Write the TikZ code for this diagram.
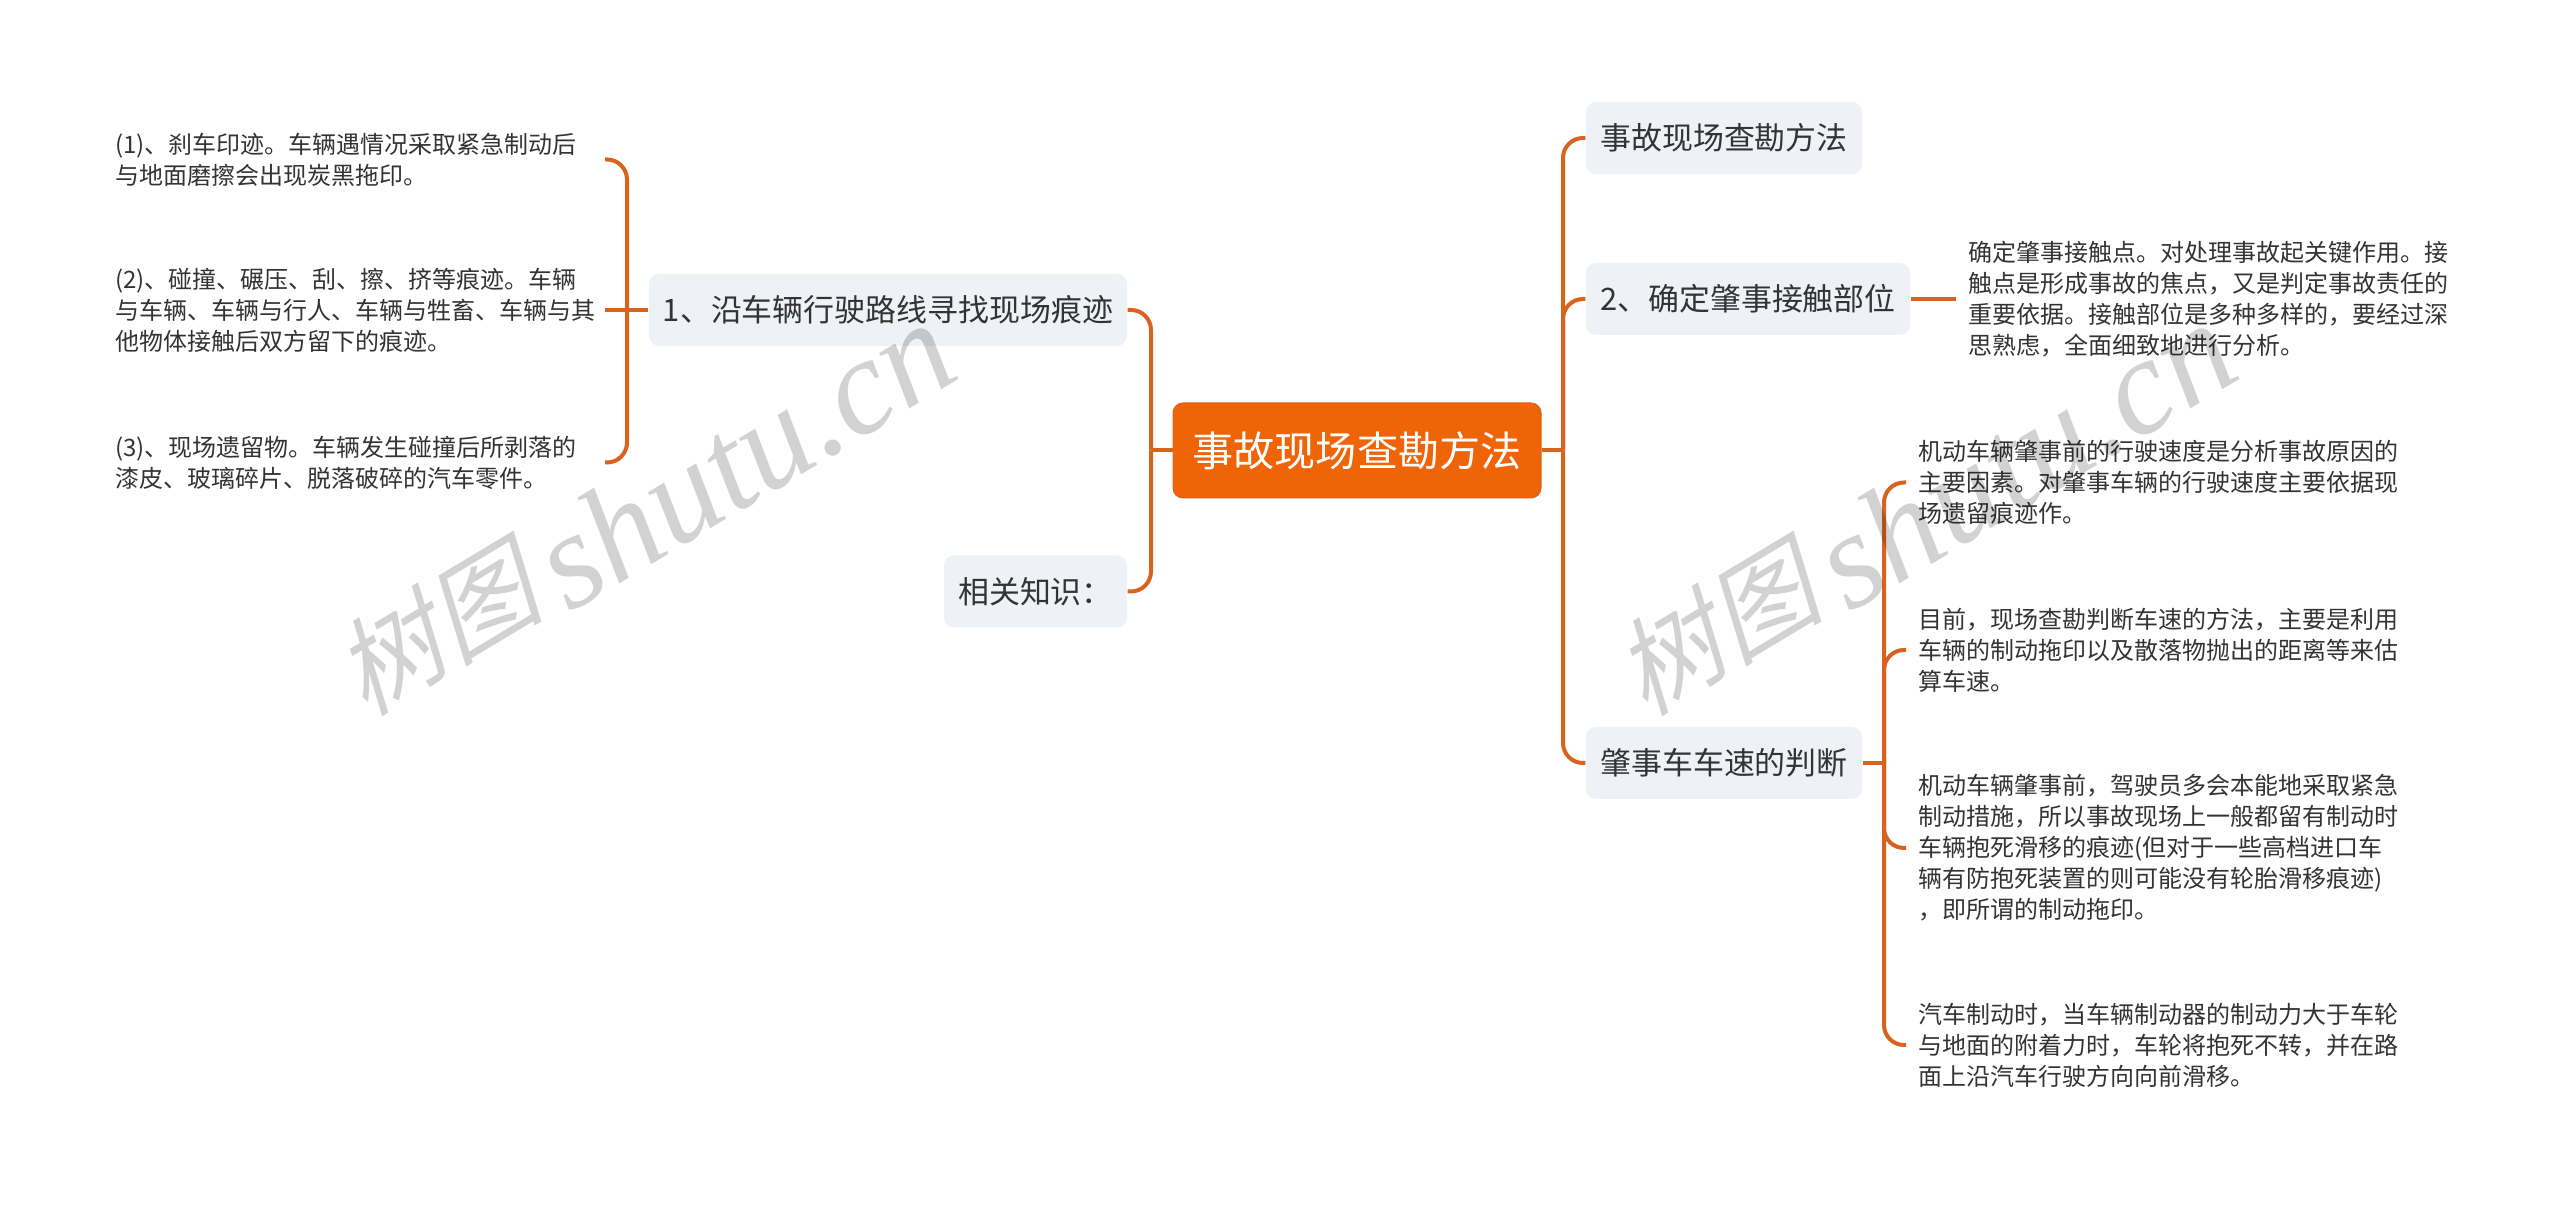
\documentclass[tikz,border=0pt]{standalone}
\usepackage{fontspec}
\setmainfont{Noto Sans CJK SC}
\newfontfamily\wmcjk[FakeSlant=0.25]{Noto Sans CJK SC}
\newfontfamily\wmlatin{Liberation Serif}
\definecolor{linkcol}{HTML}{D9631E}
\definecolor{rootcol}{HTML}{EF6406}
\definecolor{boxcol}{HTML}{EEF1F5}
\definecolor{inkcol}{HTML}{333333}
\definecolor{markcol}{HTML}{D2D2D2}

\begin{document}
\begin{tikzpicture}[align=left,
    link/.style={draw=linkcol, line width=0.4mm},
    curved link/.style={link, rounded corners=2mm},
    rootbox/.style={draw=linkcol, line width=0.1mm, fill=rootcol, rounded corners=1mm, text=white, align=center, inner sep=0pt, font=\fontsize{11.7pt}{14pt}\selectfont},
    topicbox/.style={fill=boxcol, rounded corners=1mm, text=inkcol, align=center, inner sep=0pt, minimum height=7.2mm, font=\fontsize{8.8pt}{11pt}\selectfont},
    leftnote/.style={anchor=east, text=inkcol, inner sep=0pt, text width=4.89cm, font=\fontsize{6.83pt}{8.82pt}\selectfont},
    rightnote/.style={anchor=west, text=inkcol, inner xsep=1.2mm, inner ysep=0pt, text width=5.3cm, font=\fontsize{6.83pt}{8.82pt}\selectfont},
    mark text/.style={rotate=31, text=markcol, align=center, inner sep=0pt}]
      \useasboundingbox (0,0) rectangle (25.60,-12.05);
      %
      \node[rootbox, minimum width=36.8mm, minimum height=9.5mm] (root) at (13.57,-4.505) {事故现场查勘方法};
      %
      \node[topicbox, minimum width=47.8mm] (trace) at (8.88,-3.10) {1、沿车辆行驶路线寻找现场痕迹};
      \node[topicbox, minimum width=18.3mm] (related) at (10.355,-5.915) {相关知识：};
      \node[topicbox, minimum width=27.6mm] (method) at (17.24,-1.38) {事故现场查勘方法};
      \node[topicbox, minimum width=32.4mm] (contact) at (17.48,-2.99) {2、确定肇事接触部位};
      \node[topicbox, minimum width=27.6mm] (speed) at (17.24,-7.63) {肇事车车速的判断};
      %
      \node[leftnote] (skid) at (6.05,-1.595) {(1)、刹车印迹。车辆遇情况采取紧急制动后\\与地面磨擦会出现炭黑拖印。};
      \node[leftnote] (crash) at (6.05,-3.10) {(2)、碰撞、碾压、刮、擦、挤等痕迹。车辆\\与车辆、车辆与行人、车辆与牲畜、车辆与其\\他物体接触后双方留下的痕迹。};
      \node[leftnote] (debris) at (6.05,-4.625) {(3)、现场遗留物。车辆发生碰撞后所剥落的\\漆皮、玻璃碎片、脱落破碎的汽车零件。};
      %
      \node[rightnote] (point) at (19.56,-2.99) {确定肇事接触点。对处理事故起关键作用。接\\触点是形成事故的焦点，又是判定事故责任的\\重要依据。接触部位是多种多样的，要经过深\\思熟虑，全面细致地进行分析。};
      \node[rightnote] (before) at (19.06,-4.825) {机动车辆肇事前的行驶速度是分析事故原因的\\主要因素。对肇事车辆的行驶速度主要依据现\\场遗留痕迹作。};
      \node[rightnote] (judge) at (19.06,-6.50) {目前，现场查勘判断车速的方法，主要是利用\\车辆的制动拖印以及散落物抛出的距离等来估\\算车速。};
      \node[rightnote] (brake) at (19.06,-8.48) {机动车辆肇事前，驾驶员多会本能地采取紧急\\制动措施，所以事故现场上一般都留有制动时\\车辆抱死滑移的痕迹(但对于一些高档进口车\\辆有防抱死装置的则可能没有轮胎滑移痕迹)\\，即所谓的制动拖印。};
      \node[rightnote] (slide) at (19.06,-10.45) {汽车制动时，当车辆制动器的制动力大于车轮\\与地面的附着力时，车轮将抱死不转，并在路\\面上沿汽车行驶方向向前滑移。};
      %
      \coordinate (rootL) at (11.51,-4.505);
      \coordinate (rootR) at (15.63,-4.505);
      \coordinate (traceL) at (6.27,-3.10);
      \coordinate (speedR) at (18.84,-7.63);
      %
      \draw[link] (root.west) -- (rootL);
      \draw[curved link] (rootL) |- (trace.east);
      \draw[curved link] (rootL) |- (related.east);
      \draw[link] (root.east) -- (rootR);
      \draw[curved link] (rootR) |- (method.west);
      \draw[curved link] (rootR) |- (contact.west);
      \draw[curved link] (rootR) |- (speed.west);
      %
      \draw[link] (trace.west) -- (traceL);
      \draw[curved link] (traceL) |- (skid.east);
      \draw[link] (traceL) -- (crash.east);
      \draw[curved link] (traceL) |- (debris.east);
      %
      \draw[link] (contact.east) -- (point.west);
      %
      \draw[link] (speed.east) -- (speedR);
      \draw[curved link] (speedR) |- (before.west);
      \draw[curved link] (speedR) |- (judge.west);
      \draw[curved link] (speedR) |- (brake.west);
      \draw[curved link] (speedR) |- (slide.west);
      %
      \begin{scope}[blend mode=multiply]
      \node[mark text] (markL) at (6.43,-5.10) {\raisebox{4.5pt}{\fontsize{30pt}{40pt}\selectfont\wmcjk 树图}\hspace{5pt}\fontsize{39pt}{40pt}\selectfont\wmlatin\itshape shutu.cn};
      \node[mark text] (markR) at (19.23,-5.10) {\raisebox{4.5pt}{\fontsize{30pt}{40pt}\selectfont\wmcjk 树图}\hspace{5pt}\fontsize{39pt}{40pt}\selectfont\wmlatin\itshape shutu.cn};
      \end{scope}
    \end{tikzpicture}
\end{document}
